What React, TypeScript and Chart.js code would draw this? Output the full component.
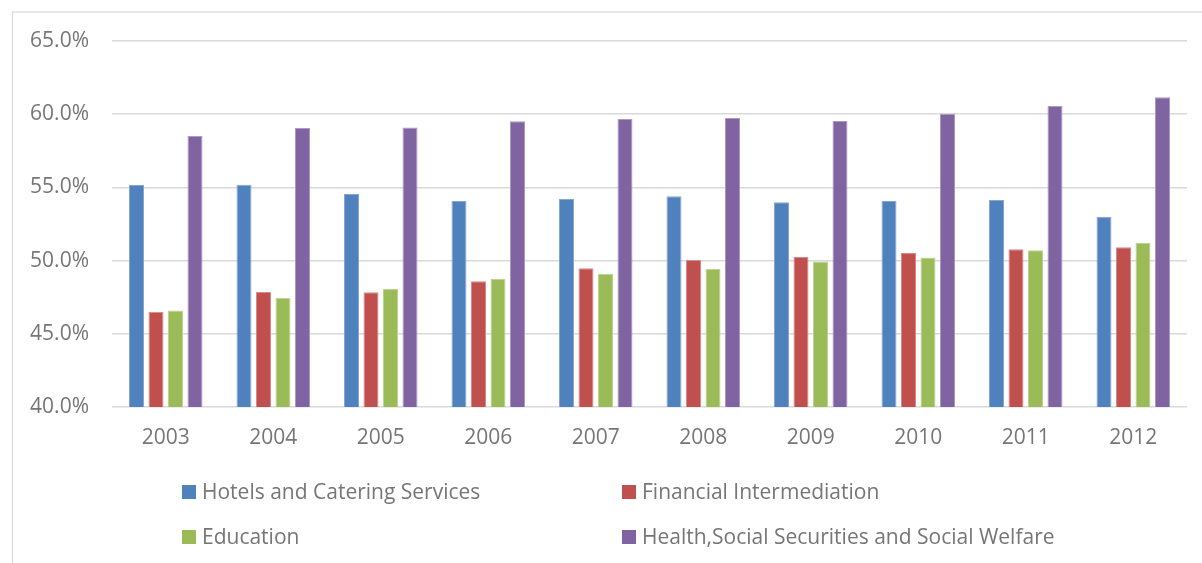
import React, { useEffect, useRef } from 'react';
import { Chart, registerables } from 'chart.js';

Chart.register(...registerables);

const years = ['2003', '2004', '2005', '2006', '2007', '2008', '2009', '2010', '2011', '2012'];
const hotels = [55.16, 55.18, 54.55, 54.07, 54.21, 54.39, 53.98, 54.07, 54.14, 53.0];
const financial = [46.51, 47.86, 47.83, 48.59, 49.47, 50.04, 50.25, 50.52, 50.77, 50.91];
const education = [46.6, 47.47, 48.06, 48.74, 49.11, 49.45, 49.93, 50.22, 50.7, 51.22];
const health = [58.51, 59.06, 59.1, 59.51, 59.67, 59.74, 59.54, 60.01, 60.56, 61.15];
const yTicks = [40, 45, 50, 55, 60, 65];

const seriesNames = [
  'Hotels and Catering Services',
  'Financial Intermediation',
  'Education',
  'Health,Social Securities and Social Welfare',
];
const fillColors = ['#4f81bd', '#c0504d', '#9bbb59', '#8064a2'];
const edgeColors = ['#86a6d3', '#d98986', '#bdd38e', '#ab98c4'];

const FONT = '"Open Sans", "DejaVu Sans", sans-serif';
const TEXT_COLOR = '#767676';

const framePlugin = {
  id: 'frame',
  beforeDraw(chart: any) {
    const ctx = chart.ctx;
    ctx.save();
    ctx.strokeStyle = '#d9d9d9';
    ctx.lineWidth = 1.2;
    ctx.strokeRect(12.5, 12, chart.width + 50, chart.height + 50);
    ctx.restore();
  },
};

const gridLegendPlugin = {
  id: 'gridLegend',
  afterDraw(chart: any) {
    const ctx = chart.ctx;
    const left = 182;
    const colWidth = 440;
    const top = 492;
    const rowHeight = 45;
    const box = 14;
    ctx.save();
    ctx.font = `21px ${FONT}`;
    ctx.textBaseline = 'middle';
    ctx.textAlign = 'left';
    chart.data.datasets.forEach((ds: any, i: number) => {
      const col = i % 2;
      const row = Math.floor(i / 2);
      const x = left + col * colWidth;
      const y = top + row * rowHeight;
      ctx.fillStyle = ds.backgroundColor;
      ctx.fillRect(x, y - box / 2, box, box);
      ctx.fillStyle = TEXT_COLOR;
      ctx.fillText(ds.label, x + box + 6, y + 1);
    });
    ctx.restore();
  },
};

export default function App() {
  const canvasRef = useRef<HTMLCanvasElement | null>(null);

  useEffect(() => {
    if (!canvasRef.current) return;
    const values = [hotels, financial, education, health];
    const chart = new Chart(canvasRef.current, {
      type: 'bar',
      data: {
        labels: years,
        datasets: values.map((v, i) => ({
          label: seriesNames[i],
          data: v,
          backgroundColor: fillColors[i],
          borderColor: edgeColors[i],
          borderWidth: 1,
          categoryPercentage: 0.7256,
          barPercentage: 0.77,
        })),
      },
      options: {
        animation: false,
        responsive: true,
        maintainAspectRatio: false,
        layout: { padding: { top: 41, right: 15, bottom: 0, left: 0 } },
        plugins: {
          legend: { display: false },
          tooltip: { enabled: false },
        },
        scales: {
          x: {
            grid: { display: false, drawTicks: false },
            border: { display: false },
            ticks: {
              color: TEXT_COLOR,
              font: { family: FONT, size: 21 },
              padding: 18,
            },
            afterFit(scale: any) {
              scale.height = 156;
            },
          },
          y: {
            min: 40,
            max: 65,
            grid: { color: '#d9d9d9', lineWidth: 1.5, drawTicks: false },
            border: { display: false },
            afterBuildTicks(scale: any) {
              scale.ticks = yTicks.map((v) => ({ value: v }));
            },
            ticks: {
              color: TEXT_COLOR,
              font: { family: FONT, size: 21 },
              padding: 23,
              callback: (v: any) => Number(v).toFixed(1) + '%',
            },
            afterFit(scale: any) {
              scale.width = 112;
            },
          },
        },
      },
      plugins: [framePlugin, gridLegendPlugin],
    });
    return () => chart.destroy();
  }, []);

  return (
    <div style={{ position: 'fixed', left: 0, top: 0, width: 1202, height: 563, background: '#ffffff' }}>
      <canvas ref={canvasRef} />
    </div>
  );
}
